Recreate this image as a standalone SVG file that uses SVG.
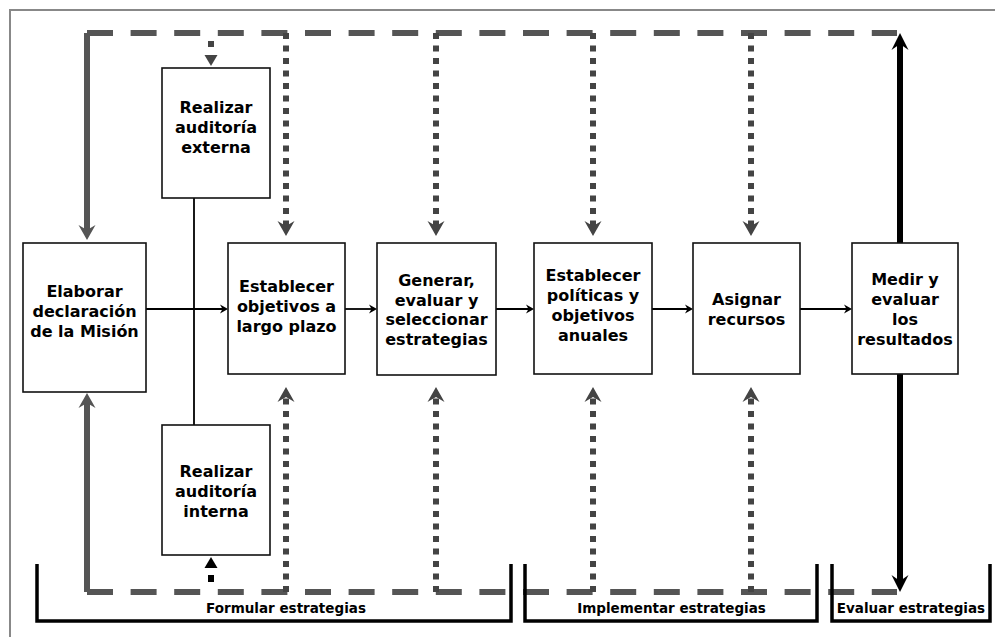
<svg xmlns="http://www.w3.org/2000/svg" width="995" height="637" viewBox="0 0 995 637">
<style>
.box{fill:#fff;stroke:#111;stroke-width:1.6}
.lbl{font-family:"DejaVu Sans","Verdana",sans-serif;font-weight:bold;font-size:16px;fill:#000;text-anchor:middle}
.ph{font-family:"DejaVu Sans","Verdana",sans-serif;font-weight:bold;font-size:13.5px;fill:#000;text-anchor:middle}
.dash{fill:none;stroke:#555;stroke-width:6;stroke-dasharray:26 17.6}
.dot{fill:none;stroke:#444;stroke-width:6;stroke-dasharray:6 6.5}
.gsolid{fill:none;stroke:#555;stroke-width:6}
.bsolid{fill:none;stroke:#000;stroke-width:6}
.thin{fill:none;stroke:#000;stroke-width:1.8}
.brk{fill:none;stroke:#000;stroke-width:3.5}
</style>
<defs>
<marker id="ga" viewBox="-16 -10 18 20" refX="-10" refY="0" markerWidth="18" markerHeight="20" markerUnits="userSpaceOnUse" orient="auto">
<path d="M0,0 L-15,-8.5 L-10,0 L-15,8.5 z" fill="#555"/>
</marker>
<marker id="da" viewBox="-16 -10 18 20" refX="-10" refY="0" markerWidth="18" markerHeight="20" markerUnits="userSpaceOnUse" orient="auto">
<path d="M0,0 L-15,-8.5 L-10,0 L-15,8.5 z" fill="#444"/>
</marker>
<marker id="ba" viewBox="-18 -10 20 20" refX="-10" refY="0" markerWidth="20" markerHeight="20" markerUnits="userSpaceOnUse" orient="auto">
<path d="M0,0 L-17,-8.5 L-11,0 L-17,8.5 z" fill="#000"/>
</marker>
<marker id="sa" viewBox="-12 -6 13 12" refX="-3" refY="0" markerWidth="13" markerHeight="12" markerUnits="userSpaceOnUse" orient="auto">
<path d="M0,0 L-8,-4.5 L-5.5,0 L-8,4.5 z" fill="#000"/>
</marker>
<marker id="ka" viewBox="-14 -8 15 16" refX="0" refY="0" markerWidth="15" markerHeight="16" markerUnits="userSpaceOnUse" orient="auto">
<path d="M0,0 L-11,-6.5 L-11,6.5 z" fill="#000"/>
</marker>
<marker id="ka2" viewBox="-14 -8 15 16" refX="0" refY="0" markerWidth="15" markerHeight="16" markerUnits="userSpaceOnUse" orient="auto">
<path d="M0,0 L-11,-6.5 L-11,6.5 z" fill="#444"/>
</marker>
</defs>

<path d="M10,637 V10 H995" fill="none" stroke="#888" stroke-width="2"/>

<g id="connectors">
<!-- top feedback loop -->
<path class="dash" d="M87,33 H897"/>
<path class="gsolid" d="M87,33 V230" marker-end="url(#ga)"/>
<path class="dot" d="M286,33 V226" marker-end="url(#da)"/>
<path class="dot" d="M436,33 V226" marker-end="url(#da)"/>
<path class="dot" d="M593,33 V226" marker-end="url(#da)"/>
<path class="dot" d="M751,33 V226" marker-end="url(#da)"/>
<path d="M211,41 V66" fill="none" stroke="#444" stroke-width="6" stroke-dasharray="6 100" marker-end="url(#ka2)"/>
<!-- bottom feedback loop -->
<path class="dash" d="M87,592 H897"/>
<path class="gsolid" d="M87,592 V403" marker-end="url(#ga)"/>
<path class="dot" d="M286,592 V397" marker-end="url(#da)"/>
<path class="dot" d="M436,592 V397" marker-end="url(#da)"/>
<path class="dot" d="M593,592 V397" marker-end="url(#da)"/>
<path class="dot" d="M751,592 V397" marker-end="url(#da)"/>
<path d="M211,582 V557" fill="none" stroke="#000" stroke-width="6" stroke-dasharray="7 100" marker-end="url(#ka)"/>
<!-- evaluation arrows -->
<path class="bsolid" d="M900,243 V43" marker-end="url(#ba)"/>
<path class="bsolid" d="M900,374 V582" marker-end="url(#ba)"/>
<!-- audit link -->
<path class="thin" d="M194,198 V425"/>
<!-- main flow -->
<path class="thin" d="M146,309 H225" marker-end="url(#sa)"/>
<path class="thin" d="M345,309 H374" marker-end="url(#sa)"/>
<path class="thin" d="M496,309 H531" marker-end="url(#sa)"/>
<path class="thin" d="M652,309 H690" marker-end="url(#sa)"/>
<path class="thin" d="M800,309 H849" marker-end="url(#sa)"/>
</g>

<g id="mision">
<rect class="box" x="23" y="243" width="123" height="149"/>
<text class="lbl"><tspan x="84.5" y="297">Elaborar</tspan><tspan x="84.5" y="317">declaración</tspan><tspan x="84.5" y="337">de la Misión</tspan></text>
</g>
<g id="auditoria-externa">
<rect class="box" x="162" y="68" width="108" height="130"/>
<text class="lbl"><tspan x="216" y="113">Realizar</tspan><tspan x="216" y="133">auditoría</tspan><tspan x="216" y="153">externa</tspan></text>
</g>
<g id="auditoria-interna">
<rect class="box" x="162" y="425" width="108" height="130"/>
<text class="lbl"><tspan x="216" y="477">Realizar</tspan><tspan x="216" y="497">auditoría</tspan><tspan x="216" y="517">interna</tspan></text>
</g>
<g id="objetivos-largo-plazo">
<rect class="box" x="228" y="243" width="117" height="131"/>
<text class="lbl"><tspan x="286.5" y="292">Establecer</tspan><tspan x="286.5" y="312">objetivos a</tspan><tspan x="286.5" y="332">largo plazo</tspan></text>
</g>
<g id="estrategias">
<rect class="box" x="377" y="243" width="119" height="132"/>
<text class="lbl"><tspan x="436.5" y="286">Generar,</tspan><tspan x="436.5" y="305.5">evaluar y</tspan><tspan x="436.5" y="325">seleccionar</tspan><tspan x="436.5" y="344.5">estrategias</tspan></text>
</g>
<g id="politicas">
<rect class="box" x="534" y="243" width="118" height="131"/>
<text class="lbl"><tspan x="593" y="281">Establecer</tspan><tspan x="593" y="301">políticas y</tspan><tspan x="593" y="321">objetivos</tspan><tspan x="593" y="341">anuales</tspan></text>
</g>
<g id="recursos">
<rect class="box" x="693" y="243" width="107" height="131"/>
<text class="lbl"><tspan x="746.5" y="305">Asignar</tspan><tspan x="746.5" y="325">recursos</tspan></text>
</g>
<g id="resultados">
<rect class="box" x="852" y="243" width="106" height="131"/>
<text class="lbl"><tspan x="905" y="285">Medir y</tspan><tspan x="905" y="305">evaluar</tspan><tspan x="905" y="325">los</tspan><tspan x="905" y="345">resultados</tspan></text>
</g>

<g id="fases">
<path class="brk" d="M37,564 V621 H511 V564"/>
<path class="brk" d="M525,564 V621 H817 V564"/>
<path class="brk" d="M832,564 V621 H990 V564"/>
<text class="ph" x="286" y="613">Formular estrategias</text>
<text class="ph" x="671.5" y="613">Implementar estrategias</text>
<text class="ph" x="911" y="613">Evaluar estrategias</text>
</g>
</svg>
